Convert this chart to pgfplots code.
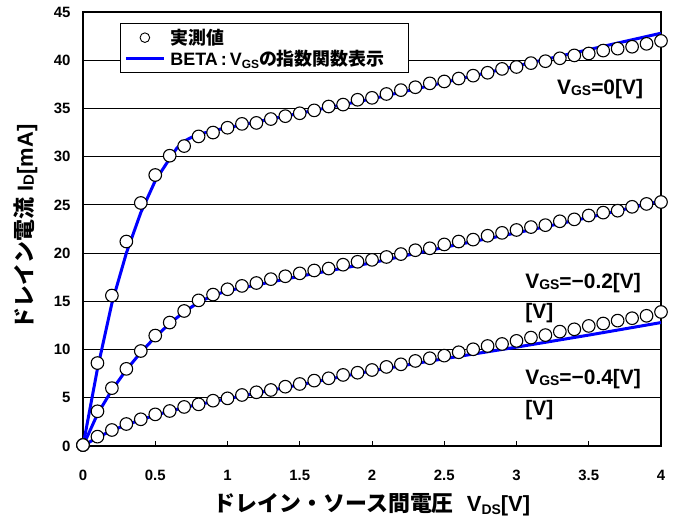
\documentclass[border=0pt]{standalone}
\usepackage{pgfplots}
\usepackage{pgfplotstable}
\pgfplotsset{compat=1.18}
\usepackage{fontspec}
\setmainfont{Liberation Sans}
\newfontfamily\jp{Noto Sans CJK JP}

\pgfplotstableread{
x y
0 0.1
0.1 8.6
0.2 15.6
0.3 21.2
0.4 25.2
0.5 28.1
0.6 30.1
0.7 31.1
0.8 32.1
0.9 32.5
1.0 33.0
1.1 33.4
1.2 33.5
1.3 33.9
1.4 34.2
1.5 34.5
1.6 34.8
1.7 35.2
1.8 35.4
1.9 35.9
2.0 36.1
2.1 36.5
2.2 36.9
2.3 37.2
2.4 37.6
2.5 37.8
2.6 38.1
2.7 38.4
2.8 38.7
2.9 39.1
3.0 39.3
3.1 39.7
3.2 39.9
3.3 40.2
3.4 40.5
3.5 40.7
3.6 41.0
3.7 41.2
3.8 41.4
3.9 41.7
4.0 42.0
}\measA

\pgfplotstableread{
x y
0 0.1
0.1 3.6
0.2 6.0
0.3 8.0
0.4 9.85
0.5 11.45
0.6 12.8
0.7 14.0
0.8 15.1
0.9 15.7
1.0 16.25
1.1 16.6
1.2 16.9
1.3 17.3
1.4 17.6
1.5 17.9
1.6 18.2
1.7 18.4
1.8 18.8
1.9 19.1
2.0 19.3
2.1 19.6
2.2 19.9
2.3 20.3
2.4 20.5
2.5 20.9
2.6 21.2
2.7 21.4
2.8 21.8
2.9 22.1
3.0 22.4
3.1 22.7
3.2 22.9
3.3 23.3
3.4 23.5
3.5 23.9
3.6 24.2
3.7 24.4
3.8 24.8
3.9 25.1
4.0 25.3
}\measB

\pgfplotstableread{
x y
0 0.1
0.1 0.97
0.2 1.66
0.3 2.28
0.4 2.77
0.5 3.28
0.6 3.63
0.7 4.05
0.8 4.32
0.9 4.7
1.0 4.94
1.1 5.29
1.2 5.57
1.3 5.81
1.4 6.15
1.5 6.43
1.6 6.78
1.7 7.02
1.8 7.37
1.9 7.6
2.0 7.88
2.1 8.2
2.2 8.47
2.3 8.82
2.4 9.1
2.5 9.37
2.6 9.72
2.7 10.03
2.8 10.37
2.9 10.58
3.0 10.9
3.1 11.24
3.2 11.5
3.3 11.86
3.4 12.1
3.5 12.45
3.6 12.7
3.7 13.0
3.8 13.25
3.9 13.5
4.0 13.9
}\measC

\pgfplotstableread{
x y
0 0
0.1 8.0
0.2 14.8
0.3 20.0
0.4 24.2
0.5 27.5
0.6 29.8
0.65 30.9
0.7 31.6
0.75 32.0
0.8 32.3
0.9 32.7
1.0 33.0
1.5 34.5
2.0 36.0
2.5 37.7
3.0 39.4
3.5 41.1
4.0 42.8
}\lineA

\pgfplotstableread{
x y
0 0
0.1 3.3
0.2 5.8
0.3 7.9
0.4 9.7
0.5 11.3
0.6 12.7
0.7 13.9
0.8 14.9
0.9 15.6
1.0 16.1
1.2 16.7
1.5 17.6
2.0 19.0
2.5 20.6
3.0 22.1
3.5 23.7
4.0 25.4
}\lineB

\pgfplotstableread{
x y
0 0
0.1 0.9
0.2 1.6
0.3 2.2
0.5 3.2
0.7 4.0
1.0 4.9
1.5 6.35
2.0 7.8
2.5 9.05
3.0 10.25
3.5 11.5
4.0 12.8
}\lineC

\begin{document}
\begin{tikzpicture}
\useasboundingbox (-83bp,-76bp) rectangle (595bp,446bp);
\begin{axis}[
  scale only axis,
  width=578bp, height=434bp,
  xmin=0, xmax=4, ymin=0, ymax=45,
  xtick={0,0.5,...,4},
  ytick={0,5,...,45},
  xticklabels={0,0.5,1,1.5,2,2.5,3,3.5,4},
  ymajorgrids,
  grid style={black, line width=0.9bp},
  axis line style={black, line width=1.5bp},
  tick align=inside,
  xtick pos=bottom,
  ytick style={draw=none},
  xtick style={black, line width=1bp},
  major tick length=5bp,
  /pgf/number format/assume math mode=true,
  ticklabel style={font=\fontsize{15}{15}\selectfont\bfseries},
  xticklabel style={yshift=-21bp},
  yticklabel style={xshift=-9bp},
  clip=false,
  legend style={at={(rel axis cs:0.064,0.975)}, anchor=north west,
    draw=black, line width=0.8bp, fill=white,
    font=\fontsize{18}{18}\selectfont\bfseries,
    row sep=0bp, inner ysep=4bp, inner xsep=4bp},
  legend cell align=left,
]
\addlegendimage{legend image code/.code={\draw[black, line width=0.9bp, fill=white] (19bp,0bp) circle (4.8bp);}}
\addlegendentry{\hspace*{3bp}{\jp\bfseries 実測値}}
\addlegendimage{legend image code/.code={\draw[blue, line width=3bp] (0bp,0bp) -- (38bp,0bp);}}
\addlegendentry{\hspace*{3bp}BETA\,:\,V\raisebox{-3bp}{\fontsize{12}{12}\selectfont GS}{\jp\bfseries の指数関数表示}\hspace*{18bp}}

\addplot[blue, line width=3bp, forget plot] table {\lineA};
\addplot[blue, line width=3bp, forget plot] table {\lineB};
\addplot[blue, line width=3bp, forget plot] table {\lineC};

\addplot[only marks, mark=*, mark size=6.3bp, mark options={fill=white, draw=black, line width=1.1bp}, forget plot] table {\measA};
\addplot[only marks, mark=*, mark size=6.3bp, mark options={fill=white, draw=black, line width=1.1bp}, forget plot] table {\measB};
\addplot[only marks, mark=*, mark size=6.3bp, mark options={fill=white, draw=black, line width=1.1bp}, forget plot] table {\measC};

\node[anchor=base west, inner sep=0pt, font=\fontsize{21}{21}\selectfont\bfseries] at (axis cs:3.28,36.4) {V\raisebox{-1bp}{\fontsize{14}{14}\selectfont GS}=0[V]};
\node[anchor=base west, inner sep=0pt, font=\fontsize{21}{21}\selectfont\bfseries] at (axis cs:3.06,16.36) {V\raisebox{-1bp}{\fontsize{14}{14}\selectfont GS}=\textminus0.2[V]};
\node[anchor=base west, inner sep=0pt, font=\fontsize{21}{21}\selectfont\bfseries] at (axis cs:3.06,13.25) {[V]};
\node[anchor=base west, inner sep=0pt, font=\fontsize{21}{21}\selectfont\bfseries] at (axis cs:3.06,6.33) {V\raisebox{-1bp}{\fontsize{14}{14}\selectfont GS}=\textminus0.4[V]};
\node[anchor=base west, inner sep=0pt, font=\fontsize{21}{21}\selectfont\bfseries] at (axis cs:3.06,3.2) {[V]};

\node[rotate=90, inner sep=0pt, font=\fontsize{22}{22}\selectfont\bfseries] at (rel axis cs:-0.099,0.505) {{\jp\bfseries ドレイン電流} I\raisebox{-1bp}{\fontsize{15}{15}\selectfont D}[mA]};
\node[inner sep=0pt, font=\fontsize{22}{22}\selectfont\bfseries] at (rel axis cs:0.5,-0.136) {{\jp\bfseries ドレイン・ソース間電圧}\hspace{13bp}V\raisebox{-3bp}{\fontsize{14}{14}\selectfont DS}[V]};
\end{axis}
\end{tikzpicture}
\end{document}
